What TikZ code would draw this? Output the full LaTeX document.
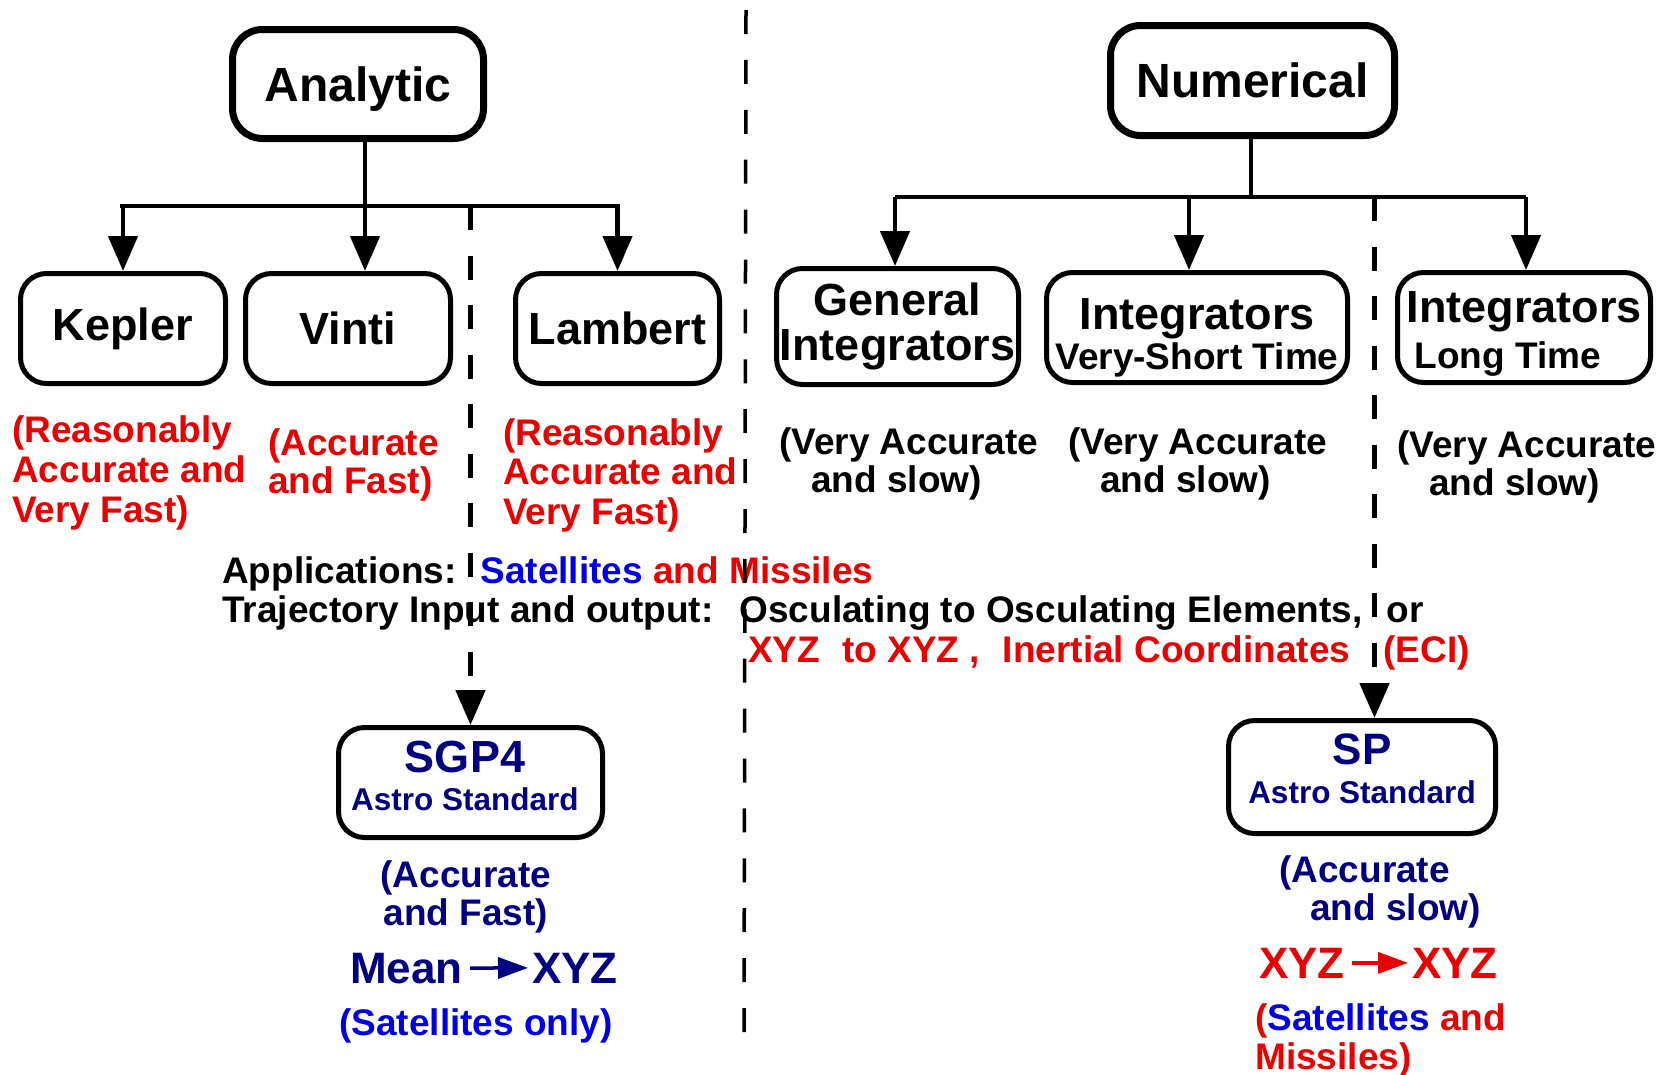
\documentclass[tikz,border=0pt]{standalone}
\usepackage{fontspec}
\setmainfont{Liberation Sans}
\usetikzlibrary{arrows.meta}
\definecolor{cred}{RGB}{235,0,0}
\definecolor{cnavy}{RGB}{0,0,128}
\definecolor{cblue}{RGB}{0,0,230}
\newcommand{\myfs}[2]{\fontsize{#1}{#2}\selectfont}
\newcommand{\topst}{\rule{0pt}{30pt}}
\begin{document}
\begin{tikzpicture}[x=1pt,y=-1pt,
  hbox/.style={draw, line width=7pt, rounded corners=30pt, inner sep=0pt, align=center, font=\bfseries\myfs{48}{56}},
  cbox/.style={draw, line width=5pt, rounded corners=26pt, inner sep=0pt, align=center, font=\bfseries\myfs{45}{45}},
  sbox/.style={cbox, text=cnavy},
  conn/.style={line width=4.5pt},
  arr/.style={conn, -{Triangle[length=35pt,width=29pt]}},
  dasharr/.style={line width=5pt, dash pattern=on 24pt off 25.5pt, -{Triangle[length=35pt,width=29pt]}},
  divider/.style={line width=3.5pt, dash pattern=on 24pt off 25.9pt},
  txt/.style={inner sep=0pt, font=\bfseries\myfs{37}{38}, align=left},
  big/.style={inner sep=0pt, font=\bfseries\myfs{44}{44}},
  minarr/.style={line width=3.5pt, -{Triangle[length=30pt,width=21pt]}, shorten <=7pt, shorten >=4pt}
]
\useasboundingbox (0,0) rectangle (1680,1074);

% top-level boxes
\node[hbox, minimum width=251pt, minimum height=109pt] (analytic) at (358,84) {\rule{0pt}{45pt}Analytic};
\node[hbox, minimum width=284pt, minimum height=110pt] (numerical) at (1252.5,80.5) {Numerical};

% analytic children
\node[cbox, minimum width=205pt, minimum height=110pt] (kepler) at (123,328.5) {Kepler};
\node[cbox, minimum width=205pt, minimum height=110pt] (vinti) at (348,328.5) {Vinti};
\node[cbox, minimum width=204pt, minimum height=110pt] (lambert) at (617.5,328.5) {Lambert};

% numerical children
\node[cbox, minimum width=242pt, minimum height=116pt] (general) at (897.5,326.5) {General\\Integrators};
\node[cbox, minimum width=301pt, minimum height=110pt, font=\bfseries\myfs{45}{40}] (vst) at (1197,327.5)
  {\rule{0pt}{51pt}Integrators\\{\myfs{37}{40}Very-Short Time}};
\node[cbox, minimum width=253pt, minimum height=110pt, align=left, font=\bfseries\myfs{45}{46}] (long) at (1524,327.5)
  {\rule{0pt}{43pt}Integrators\\{\myfs{37}{46}\hspace*{8pt}Long Time}};

% standard boxes
\node[sbox, minimum width=264pt, minimum height=110pt, font=\bfseries\myfs{45}{38}] (sgp4) at (470.5,782.5)
  {SGP4\hspace*{11pt}\\{\myfs{31.5}{38}Astro Standard\hspace*{11pt}\rule[-14pt]{0pt}{14pt}}};
\node[sbox, minimum width=267pt, minimum height=113pt, font=\bfseries\myfs{44}{39}] (sp) at (1362,777)
  {SP\\{\myfs{31.5}{39}Astro Standard\rule[-17pt]{0pt}{17pt}}};

% notes under analytic children
\node[txt, text=cred, anchor=north west, font=\bfseries\myfs{37}{40}] (kred) at (12,412) {\topst(Reasonably\\Accurate and\\Very Fast)};
\node[txt, text=cred, anchor=north west] (vred) at (268,425) {\topst(Accurate\\and Fast)};
\node[txt, text=cred, anchor=north west, font=\bfseries\myfs{37}{39.5}] (lred) at (503,415) {\topst(Reasonably\\Accurate and\\Very Fast)};

% notes under numerical children
\node[txt, anchor=north west, font=\bfseries\myfs{37}{38}] (gtxt) at (779,424) {\topst(Very Accurate\\\hspace*{32pt}and slow)};
\node[txt, anchor=north west, font=\bfseries\myfs{37}{38}] (vtxt) at (1068,424) {\topst(Very Accurate\\\hspace*{32pt}and slow)};
\node[txt, anchor=north west, font=\bfseries\myfs{37}{38}] (ltxt) at (1397,427) {\topst(Very Accurate\\\hspace*{32pt}and slow)};

% middle lines
\node[txt, anchor=base west] (apps) at (222,583) {Applications:\hspace{24pt}\textcolor{cblue}{Satellites} \textcolor{cred}{and Missiles}};
\node[txt, anchor=base west] (traj) at (222,622) {Trajectory Input and output:\hspace{26pt}Osculating to Osculating Elements,\hspace{24pt}or};
\node[txt, anchor=base west, text=cred] (xyzl) at (748,662) {XYZ\hspace{22pt}to XYZ ,\hspace{23pt}Inertial Coordinates\hspace{33pt}(ECI)};

% SGP4 notes
\node[txt, text=cnavy, align=center, anchor=north, font=\bfseries\myfs{37}{38}] (sgsub) at (466,857) {\topst(Accurate\\and Fast)};
\node[big, text=cnavy, anchor=base east] (mean) at (463,983) {Mean};
\node[big, text=cnavy, anchor=base west] (xyza) at (532,983) {XYZ};
\node[txt, text=cblue, anchor=base] (satonly) at (476,1035) {(Satellites only)};

% SP notes
\node[txt, text=cnavy, anchor=north west] (spsub) at (1279,852) {\topst(Accurate\\\hspace*{31pt}and slow)};
\node[big, text=cred, anchor=base east] (xyzb) at (1345,978) {XYZ};
\node[big, text=cred, anchor=base west] (xyzc) at (1412,978) {XYZ};
\node[txt, text=cred, anchor=north west, font=\bfseries\myfs{37}{39}] (satmis) at (1255,1000) {\topst(\textcolor{cblue}{Satellites} and\\Missiles)};

% connectors: analytic
\coordinate (aL) at (120,206);
\coordinate (aR) at (619.5,206);
\coordinate (aM) at (365,206);
\draw[conn] (aM |- analytic.south) -- (aM);
\draw[conn] (aL) -- (aR);
\draw[arr] (kepler.north |- aL) -- (kepler.north);
\draw[arr] (aM) -- (aM |- vinti.north);
\draw[arr] (lambert.north |- aR) -- (lambert.north);
\draw[dasharr] (sgp4.north |- aL) -- (sgp4.north);

% connectors: numerical
\coordinate (nL) at (895,197);
\coordinate (nR) at (1526,197);
\coordinate (nM) at (1251,197);
\coordinate (nV) at (1189,197);
\coordinate (nD) at (1374.5,197);
\draw[conn] (nM |- numerical.south) -- (nM);
\draw[conn] (nL) -- (nR);
\draw[arr] (nL) -- (nL |- general.north);
\draw[arr] (nV) -- (nV |- vst.north);
\draw[arr] (nR) -- (nR |- long.north);
\draw[dasharr] (nD) -- (nD |- sp.north);

% small arrows
\draw[minarr, cnavy] (mean.east) -- (xyza.west);
\draw[minarr, cred] (xyzb.east) -- (xyzc.west);

% main divider
\coordinate (dT) at (746,10);
\coordinate (dB) at (744,1034);
\draw[divider] (dT) -- (dB);
\end{tikzpicture}
\end{document}
